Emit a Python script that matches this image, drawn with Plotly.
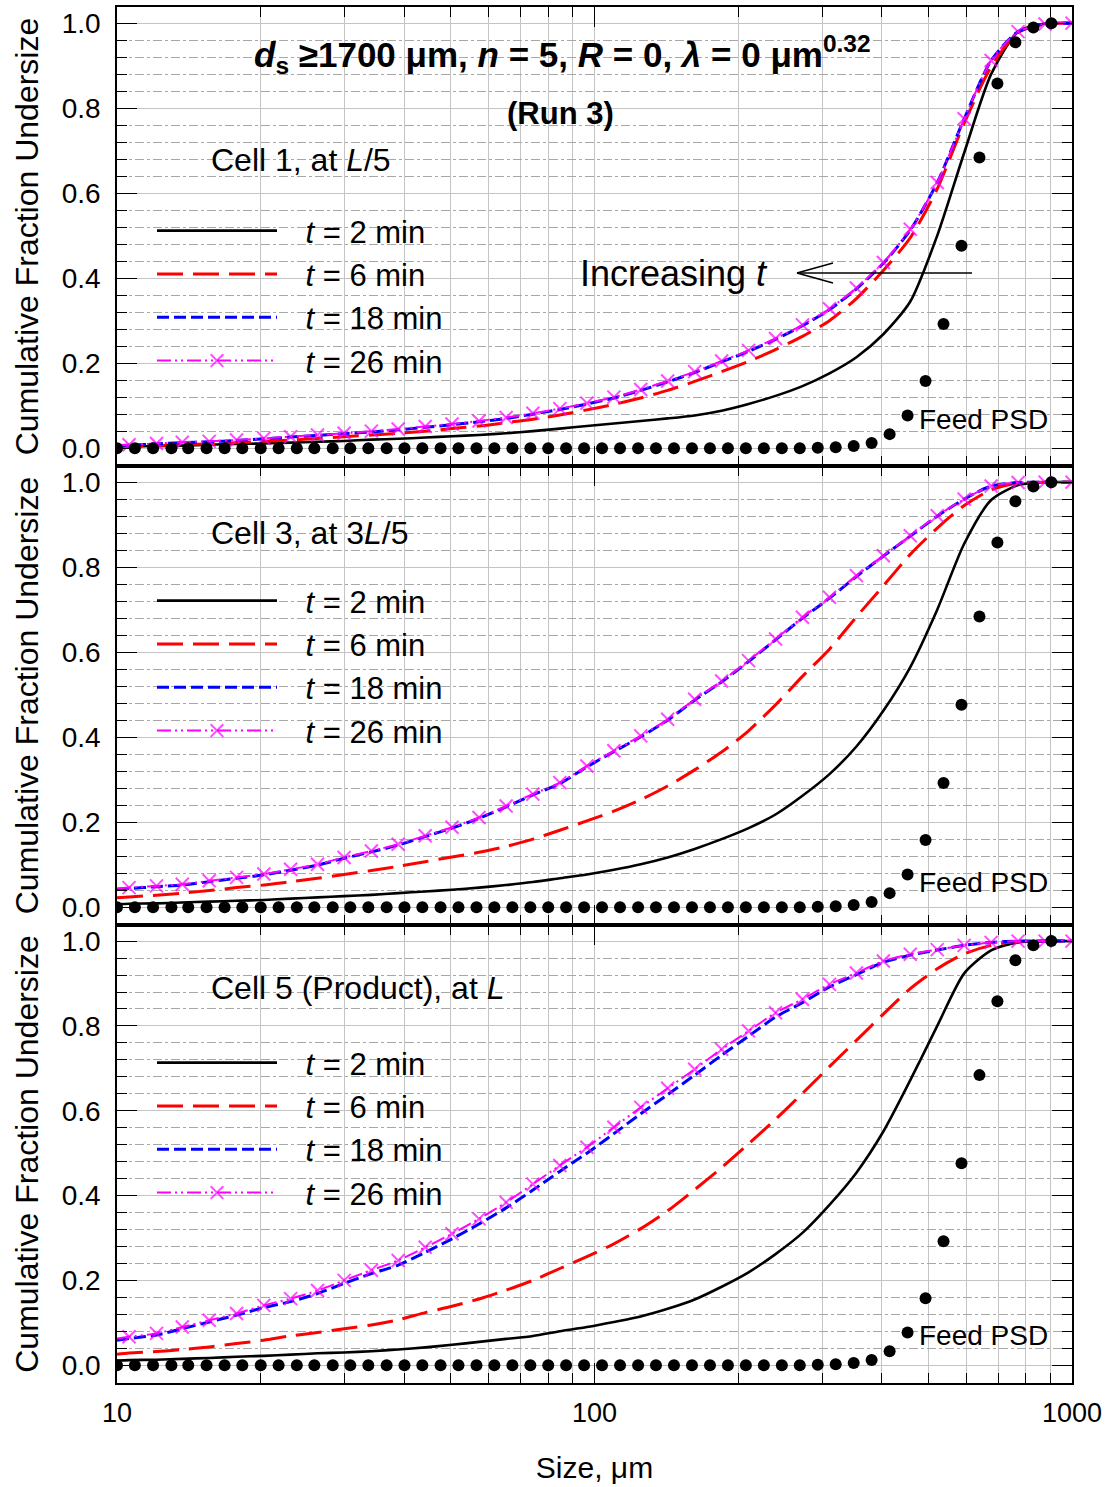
import plotly.graph_objects as go
from plotly.subplots import make_subplots

# ---------------- data ----------------
SIZE_GRID = [10.0, 10.6, 12.1, 13.7, 15.6, 17.8, 20.3, 23.1, 26.3, 29.9, 34.1, 38.8, 44.2, 50.3,
             57.3, 65.3, 74.3, 84.6, 96.4, 109.8, 125.0, 142.3, 162.1, 184.6, 210.2, 239.4,
             272.6, 310.5, 353.6, 402.6, 458.5, 522.1, 594.6, 677.1, 771.1, 878.1, 1000.0]

FEED_SIZE = [10.0, 10.9, 11.9, 13.0, 14.1, 15.4, 16.8, 18.3, 20.0, 21.8, 23.8, 25.9, 28.3, 30.8,
             33.6, 36.7, 40.0, 43.6, 47.6, 51.9, 56.6, 61.7, 67.3, 73.4, 80.0, 87.2, 95.1, 103.7,
             113.1, 123.4, 134.5, 146.7, 160.0, 174.5, 190.3, 207.5, 226.3, 246.8, 269.1, 293.5,
             320.0, 349.0, 380.5, 415.0, 452.5, 493.5, 538.2, 586.9, 640.0, 697.9, 761.1, 830.0,
             905.1]
FEED_CUM = [0.0, 0.0, 0.0, 0.0, 0.0, 0.0, 0.0, 0.0, 0.0, 0.0, 0.0, 0.0, 0.0, 0.0,
            0.0, 0.0, 0.0, 0.0, 0.0, 0.0, 0.0, 0.0, 0.0, 0.0, 0.0, 0.0, 0.0, 0.0,
            0.0, 0.0, 0.0, 0.0, 0.0, 0.0, 0.0, 0.0, 0.0, 0.0, 0.0, 0.001,
            0.002, 0.005, 0.012, 0.033, 0.077, 0.158, 0.292, 0.476, 0.684, 0.858, 0.955, 0.990,
            1.0]

# Cell 1, at L/5
C1_T2 = [0.003, 0.004, 0.005, 0.006, 0.008, 0.010, 0.011, 0.013, 0.015, 0.017, 0.020, 0.022, 0.025,
         0.028, 0.031, 0.035, 0.040, 0.046, 0.052, 0.058, 0.064, 0.070, 0.077, 0.088, 0.104, 0.123,
         0.146, 0.176, 0.214, 0.268, 0.345, 0.500, 0.695, 0.880, 0.980, 0.999, 1.0]
C1_T6 = [0.003, 0.004, 0.006, 0.008, 0.010, 0.013, 0.016, 0.019, 0.023, 0.027, 0.031, 0.035, 0.040,
         0.046, 0.052, 0.060, 0.068, 0.078, 0.090, 0.103, 0.118, 0.136, 0.157, 0.180, 0.204, 0.232,
         0.263, 0.300, 0.352, 0.418, 0.495, 0.610, 0.765, 0.897, 0.978, 0.998, 1.0]
C1_T18 = [0.006, 0.007, 0.010, 0.013, 0.015, 0.018, 0.022, 0.026, 0.030, 0.034, 0.038, 0.043, 0.049,
          0.055, 0.062, 0.070, 0.080, 0.091, 0.104, 0.118, 0.136, 0.156, 0.178, 0.203, 0.228, 0.256,
          0.288, 0.326, 0.375, 0.435, 0.513, 0.625, 0.775, 0.912, 0.980, 0.998, 1.0]
C1_T26 = [0.007, 0.008, 0.011, 0.014, 0.016, 0.019, 0.023, 0.027, 0.031, 0.035, 0.040, 0.045, 0.051,
          0.057, 0.064, 0.072, 0.082, 0.093, 0.106, 0.120, 0.138, 0.158, 0.180, 0.205, 0.230, 0.258,
          0.290, 0.328, 0.377, 0.437, 0.515, 0.625, 0.775, 0.912, 0.980, 0.998, 1.0]

# Cell 3, at 3L/5
C3_T2 = [0.007, 0.008, 0.009, 0.011, 0.013, 0.015, 0.017, 0.020, 0.023, 0.026, 0.029, 0.033, 0.037,
         0.041, 0.046, 0.052, 0.059, 0.068, 0.077, 0.088, 0.101, 0.117, 0.137, 0.160, 0.186, 0.218,
         0.262, 0.313, 0.378, 0.462, 0.565, 0.700, 0.855, 0.958, 0.993, 1.0, 1.0]
C3_T6 = [0.022, 0.024, 0.028, 0.033, 0.039, 0.046, 0.052, 0.060, 0.068, 0.077, 0.086, 0.096, 0.107,
         0.118, 0.129, 0.143, 0.160, 0.181, 0.203, 0.226, 0.253, 0.285, 0.323, 0.365, 0.415, 0.476,
         0.543, 0.607, 0.683, 0.756, 0.830, 0.892, 0.945, 0.982, 0.998, 1.0, 1.0]
C3_T18 = [0.042, 0.044, 0.048, 0.052, 0.060, 0.068, 0.076, 0.087, 0.099, 0.115, 0.130, 0.146, 0.166,
          0.186, 0.209, 0.236, 0.264, 0.291, 0.330, 0.366, 0.401, 0.440, 0.487, 0.530, 0.578, 0.629,
          0.680, 0.727, 0.778, 0.826, 0.873, 0.920, 0.960, 0.991, 0.999, 1.0, 1.0]
C3_T26 = [0.044, 0.046, 0.050, 0.054, 0.062, 0.070, 0.078, 0.089, 0.101, 0.117, 0.132, 0.148, 0.168,
          0.188, 0.211, 0.238, 0.266, 0.293, 0.332, 0.368, 0.403, 0.442, 0.489, 0.532, 0.580, 0.631,
          0.682, 0.729, 0.780, 0.827, 0.874, 0.921, 0.960, 0.991, 0.999, 1.0, 1.0]

# Cell 5 (Product), at L
C5_T2 = [0.011, 0.012, 0.013, 0.015, 0.017, 0.020, 0.022, 0.025, 0.028, 0.030, 0.033, 0.037, 0.042,
         0.048, 0.055, 0.062, 0.069, 0.080, 0.090, 0.102, 0.115, 0.133, 0.155, 0.185, 0.219, 0.262,
         0.312, 0.378, 0.454, 0.551, 0.672, 0.800, 0.924, 0.978, 0.997, 1.0, 1.0]
C5_T6 = [0.026, 0.029, 0.032, 0.037, 0.043, 0.051, 0.059, 0.069, 0.077, 0.086, 0.095, 0.107, 0.124,
         0.139, 0.156, 0.177, 0.200, 0.228, 0.256, 0.286, 0.322, 0.364, 0.414, 0.466, 0.522, 0.580,
         0.641, 0.704, 0.766, 0.828, 0.888, 0.935, 0.970, 0.990, 0.999, 1.0, 1.0]
C5_T18 = [0.059, 0.063, 0.071, 0.086, 0.102, 0.118, 0.136, 0.150, 0.169, 0.193, 0.216, 0.236, 0.266,
          0.298, 0.333, 0.371, 0.413, 0.457, 0.500, 0.546, 0.593, 0.638, 0.684, 0.731, 0.776, 0.821,
          0.855, 0.892, 0.921, 0.950, 0.967, 0.979, 0.990, 0.997, 1.0, 1.0, 1.0]
C5_T26 = [0.063, 0.067, 0.075, 0.090, 0.106, 0.122, 0.141, 0.157, 0.176, 0.200, 0.224, 0.247, 0.278,
          0.310, 0.345, 0.384, 0.427, 0.471, 0.514, 0.561, 0.608, 0.653, 0.698, 0.745, 0.788, 0.831,
          0.863, 0.898, 0.925, 0.953, 0.969, 0.980, 0.990, 0.997, 1.0, 1.0, 1.0]

TIME_LABELS = ["2", "6", "18", "26"]
PANEL_LABELS = ["Cell 1, at <i>L</i>/5", "Cell 3, at 3<i>L</i>/5", "Cell 5 (Product), at <i>L</i>"]
PANELS = [[C1_T2, C1_T6, C1_T18, C1_T26],
          [C3_T2, C3_T6, C3_T18, C3_T26],
          [C5_T2, C5_T6, C5_T18, C5_T26]]

# ---------------- styling ----------------
FONT = "Liberation Sans, Arial, Helvetica, sans-serif"
LINE_STYLES = [
    dict(color="#000000", width=2.6, dash="solid"),
    dict(color="#ff0000", width=3, dash="26px,10px"),
    dict(color="#0000ff", width=3, dash="12px,5px"),
    dict(color="#ff00ff", width=2, dash="14px,4px,2px,4px,2px,4px"),
]
PAD = "\u00a0\u00a0\u2009"

fig = make_subplots(rows=3, cols=1, vertical_spacing=0)

legend_names = ["legend", "legend2", "legend3"]
for p, series in enumerate(PANELS):
    row = p + 1
    for k, vals in enumerate(series):
        st = LINE_STYLES[k]
        kw = dict(
            x=SIZE_GRID, y=vals,
            name=f"{PAD}<i>t</i> = {TIME_LABELS[k]} min",
            legend=legend_names[p],
            line=dict(color=st["color"], width=st["width"], dash=st["dash"], shape="spline", smoothing=0.7),
            hoverinfo="skip",
        )
        if k == 3:
            kw["mode"] = "lines+markers"
            kw["marker"] = dict(symbol="x-thin", size=[0] + [13] * (len(SIZE_GRID) - 1),
                                color="#ff00ff", line=dict(color="#ff00ff", width=2))
        else:
            kw["mode"] = "lines"
        fig.add_trace(go.Scatter(**kw), row=row, col=1)
    fig.add_trace(go.Scatter(x=FEED_SIZE, y=FEED_CUM, mode="markers",
                             marker=dict(symbol="circle", size=12, color="black"),
                             showlegend=False, hoverinfo="skip"), row=row, col=1)

W, H = 1109, 1487
ML, MR, MT, MB = 117, 37, 7, 104
plot_h = H - MT - MB
# panel boundaries (px from top): 7, 466, 925, 1383
b1 = (H - MB - 466) / plot_h
b2 = (H - MB - 925) / plot_h
domains = [[b1, 1.0], [b2, b1], [0.0, b2]]

for r in (1, 2, 3):
    fig.update_xaxes(
        type="log", range=[1, 3], dtick=1, exponentformat="none",
        ticks="inside", ticklen=20, tickwidth=1.3, tickcolor="black",
        showline=True, linecolor="black", linewidth=1.5, mirror="allticks",
        showgrid=True, gridcolor="#c4c4c4", gridwidth=1, zeroline=False,
        minor=dict(dtick="D1", ticks="inside", ticklen=10, tickwidth=1.2, tickcolor="black",
                   showgrid=True, gridcolor="#c4c4c4", gridwidth=1),
        showticklabels=(r == 3), automargin=False,
        tickfont=dict(size=27, family=FONT, color="black"),
        ticklabelstandoff=5,
        row=r, col=1)
    fig.update_yaxes(
        domain=domains[r - 1], range=[-0.042, 1.038], tick0=0, dtick=0.2, tickformat=".1f",
        ticks="inside", ticklen=20, tickwidth=1.3, tickcolor="black",
        showline=True, linecolor="black", linewidth=1.5, mirror="allticks",
        showgrid=True, gridcolor="#c4c4c4", gridwidth=1, zeroline=False,
        minor=dict(tick0=0, dtick=0.04, ticks="inside", ticklen=10, tickwidth=1.2, tickcolor="black",
                   showgrid=True, gridcolor="#a8a8a8", gridwidth=1, griddash="dashdot"),
        tickfont=dict(size=28, family=FONT, color="black"), automargin=False,
        ticklabelstandoff=9,
        title=dict(text="Cumulative Fraction Undersize", font=dict(size=32, family=FONT, color="black"),
                   standoff=14),
        row=r, col=1)

fig.update_xaxes(title=dict(text="Size, μm", font=dict(size=30, family=FONT, color="black"), standoff=30),
                 row=3, col=1)

legend_tops = [(H - MB - 204) / plot_h, (H - MB - 574) / plot_h, (H - MB - 1036) / plot_h]
legend_common = dict(x=(152 - ML) / (W - ML - MR), xanchor="left", yanchor="top",
                     bgcolor="rgba(0,0,0,0)", borderwidth=0, itemwidth=120,
                     font=dict(size=31, family=FONT, color="black"), tracegroupgap=0,
                     traceorder="normal", itemclick=False, itemdoubleclick=False)

layout_legends = {}
for i, name in enumerate(legend_names):
    layout_legends[name] = dict(legend_common, y=legend_tops[i])

annotations = []
xrefs = ["x domain", "x2 domain", "x3 domain"]
yrefs = ["y domain", "y2 domain", "y3 domain"]


def dx(px):
    return (px - ML) / (W - ML - MR)


panel_tops = [7, 466, 925]


def dy(py, p):
    return (panel_tops[p] + 459 - py) / 459


annotations.append(dict(
    text="<b><i>d</i><sub>s</sub> ≥1700 μm, <i>n</i> = 5, <i>R</i> = 0, <i>λ</i> = 0 μm<sup>0.32</sup></b>",
    xref=xrefs[0], yref=yrefs[0], x=dx(562), y=dy(55, 0), xanchor="center", yanchor="middle",
    showarrow=False, font=dict(size=35, family=FONT, color="black")))
annotations.append(dict(
    text="<b>(Run 3)</b>", xref=xrefs[0], yref=yrefs[0], x=dx(560), y=dy(113, 0),
    xanchor="center", yanchor="middle", showarrow=False, font=dict(size=31, family=FONT, color="black")))
annotations.append(dict(
    text="Increasing <i>t</i>", xref=xrefs[0], yref=yrefs[0], x=dx(578), y=dy(273, 0),
    xanchor="left", yanchor="middle", showarrow=False, font=dict(size=36, family=FONT, color="black")))

label_y = [160, 533, 988]
feed_y = [419, 882, 1336]
for p in range(3):
    annotations.append(dict(
        text=PANEL_LABELS[p], xref=xrefs[p], yref=yrefs[p], x=dx(209), y=dy(label_y[p], p),
        xanchor="left", yanchor="middle", showarrow=False, font=dict(size=32, family=FONT, color="black")))
    annotations.append(dict(
        text="Feed PSD", xref=xrefs[p], yref=yrefs[p], x=dx(917), y=dy(feed_y[p], p),
        xanchor="left", yanchor="middle", showarrow=False, font=dict(size=28, family=FONT, color="black")))

shapes = [
    dict(type="line", xref=xrefs[0], yref=yrefs[0], x0=dx(972), x1=dx(797), y0=dy(273, 0), y1=dy(273, 0),
         line=dict(color="black", width=1.6)),
    dict(type="line", xref=xrefs[0], yref=yrefs[0], x0=dx(797), x1=dx(833), y0=dy(273, 0), y1=dy(263, 0),
         line=dict(color="black", width=1.6)),
    dict(type="line", xref=xrefs[0], yref=yrefs[0], x0=dx(797), x1=dx(833), y0=dy(273, 0), y1=dy(283, 0),
         line=dict(color="black", width=1.6)),
]

fig.update_layout(
    width=W, height=H,
    margin=dict(l=ML, r=MR, t=MT, b=MB, pad=0, autoexpand=False),
    paper_bgcolor="white", plot_bgcolor="white",
    font=dict(family=FONT, color="black"),
    annotations=annotations, shapes=shapes,
    showlegend=True,
    **layout_legends,
)

fig.write_html("out.html",
               config={"displayModeBar": False},
               post_script="document.body.style.margin='0px';document.body.style.overflow='hidden';")
